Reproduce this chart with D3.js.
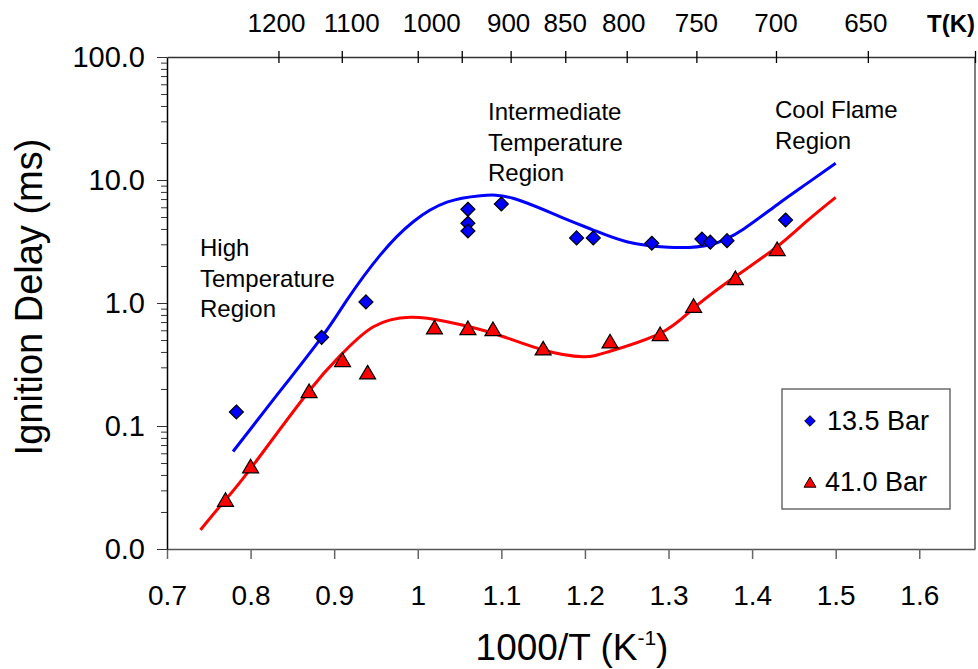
<!DOCTYPE html>
<html>
<head>
<meta charset="utf-8">
<script src="https://d3js.org/d3.v7.min.js"></script>
<style>
  body { margin: 0; background: #fff; }
  text { font-family: Arial, "Liberation Sans", sans-serif; fill: #000; }
</style>
</head>
<body>
<svg width="978" height="669"></svg>
<script>
// measured points, 13.5 bar
var blueX = [0.783, 0.885, 0.938, 1.06, 1.06, 1.06, 1.10, 1.19, 1.21, 1.28, 1.34, 1.35, 1.37, 1.44];
var blueY = [0.130, 0.526, 1.02, 5.78, 4.45, 3.85, 6.38, 3.38, 3.38, 3.06, 3.31, 3.12, 3.21, 4.73];
// measured points, 41.0 bar
var redX = [0.77, 0.80, 0.87, 0.91, 0.94, 1.02, 1.06, 1.09, 1.15, 1.23, 1.29, 1.33, 1.38, 1.43];
var redY = [0.0247, 0.0462, 0.189, 0.338, 0.268, 0.622, 0.615, 0.603, 0.420, 0.479, 0.550, 0.933, 1.567, 2.70];

// model curves
var blueCurveX = [0.779, 0.827, 0.885, 0.915, 0.955, 0.995, 1.035, 1.075, 1.114, 1.17, 1.21, 1.25, 1.30, 1.35, 1.39, 1.43, 1.465, 1.5];
var blueCurveY = [0.062, 0.163, 0.526, 1.05, 2.45, 4.6, 6.6, 7.45, 7.1, 5.04, 3.92, 3.15, 2.84, 2.98, 4.0, 6.3, 9.3, 13.7];
var redCurveX = [0.740, 0.769, 0.80, 0.869, 0.91, 0.947, 0.991, 1.035, 1.09, 1.15, 1.198, 1.23, 1.29, 1.33, 1.38, 1.43, 1.465, 1.5];
var redCurveY = [0.0143, 0.0247, 0.045, 0.189, 0.39, 0.641, 0.765, 0.705, 0.568, 0.415, 0.366, 0.405, 0.567, 0.906, 1.64, 2.87, 4.6, 7.23];

var xTicks = [0.7, 0.8, 0.9, 1.0, 1.1, 1.2, 1.3, 1.4, 1.5, 1.6];
var xTickLabels = ["0.7", "0.8", "0.9", "1", "1.1", "1.2", "1.3", "1.4", "1.5", "1.6"];
var yMajor = [0.01, 0.1, 1, 10, 100];
var yTickLabels = ["0.0", "0.1", "1.0", "10.0", "100.0"];
var topT = [1200, 1100, 1000, 950, 900, 850, 800, 750, 700, 650, 600];
var topLabels = ["1200", "1100", "1000", "", "900", "850", "800", "750", "700", "650", ""];
var topLabelShift = [-2, 10, 14, 0, -2, 0, -3, 0, 0, -2, 0];  // labels sit a little off their ticks
var seriesNames = ["13.5 Bar", "41.0 Bar"];

var svg = d3.select("svg"),
    plotL = 167, plotR = 975, plotT = 57, plotB = 549;

var x = d3.scaleLinear().domain([0.7, 1000 / 600]).range([plotL, plotR]);
var y = d3.scaleLog().domain([0.01, 100]).range([plotB, plotT]);

// minor log ticks 2..9 per decade
var yAll = [];
yMajor.forEach(function(m, i) {
  yAll.push(m);
  if (i < yMajor.length - 1) for (var k = 2; k <= 9; k++) yAll.push(+(m * k).toPrecision(3));
});

// right border
svg.append("line").attr("x1", plotR).attr("x2", plotR).attr("y1", plotT).attr("y2", plotB)
  .attr("stroke", "#555").attr("stroke-width", 1.5);

// bottom axis
var gx = svg.append("g").attr("transform", "translate(0," + plotB + ")")
  .call(d3.axisBottom(x).tickValues(xTicks).tickSize(10).tickSizeOuter(0).tickPadding(26)
    .tickFormat(function(d, i) { return xTickLabels[i]; }));
gx.select(".domain").attr("stroke", "#555").attr("stroke-width", 1.5);
gx.selectAll(".tick line").attr("stroke", "#666").attr("stroke-width", 1.5);
gx.selectAll("text").attr("font-size", 28).attr("font-family", "Arial, 'Liberation Sans', sans-serif");

// left axis
var gy = svg.append("g").attr("transform", "translate(" + plotL + ",0)")
  .call(d3.axisLeft(y).tickValues(yAll).tickSize(10).tickSizeOuter(0).tickPadding(12)
    .tickFormat(function(d) { var i = yMajor.indexOf(d); return i < 0 ? "" : yTickLabels[i]; }));
gy.select(".domain").attr("stroke", "#000").attr("stroke-width", 1.5);
gy.selectAll(".tick line").attr("stroke", "#333")
  .attr("x2", function(d) { return yMajor.indexOf(d) < 0 ? -6 : -10; });
gy.selectAll("text").attr("font-size", 29).attr("font-family", "Arial, 'Liberation Sans', sans-serif");

// top temperature axis
var gt = svg.append("g").attr("transform", "translate(0," + plotT + ")")
  .call(d3.axisTop(x).tickValues(topT.map(function(t) { return 1000 / t; })).tickSize(6).tickSizeOuter(0)
    .tickFormat(""));
gt.select(".domain").attr("stroke", "#333").attr("stroke-width", 1.5);
gt.selectAll(".tick line").attr("y1", 6).attr("y2", -6).attr("stroke", "#000").attr("stroke-width", 1.3);

svg.append("g").selectAll("text").data(topT).enter().append("text")
  .attr("x", function(d, i) { return x(1000 / d) + topLabelShift[i]; })
  .attr("y", 32)
  .attr("text-anchor", "middle")
  .attr("font-size", 26)
  .text(function(d, i) { return topLabels[i]; });

svg.append("text").attr("x", plotR).attr("y", 32).attr("text-anchor", "end")
  .attr("font-size", 24).attr("font-weight", "bold").text("T(K)");

// axis titles
svg.append("text").attr("transform", "translate(42,297) rotate(-90)")
  .attr("text-anchor", "middle").attr("font-size", 38).text("Ignition Delay (ms)");

var xl = svg.append("text").attr("x", 572).attr("y", 660).attr("text-anchor", "middle").attr("font-size", 37);
xl.append("tspan").text("1000/T (K");
xl.append("tspan").attr("font-size", 21).attr("dy", -15).text("-1");
xl.append("tspan").attr("dy", 15).text(")");

// curves
var line = d3.line()
  .x(function(d) { return x(d[0]); })
  .y(function(d) { return y(d[1]); })
  .curve(d3.curveNatural);

svg.append("path").datum(blueCurveX.map(function(v, i) { return [v, blueCurveY[i]]; }))
  .attr("d", line).attr("fill", "none").attr("stroke", "#0000ff").attr("stroke-width", 3);
svg.append("path").datum(redCurveX.map(function(v, i) { return [v, redCurveY[i]]; }))
  .attr("d", line).attr("fill", "none").attr("stroke", "#ff0000").attr("stroke-width", 3);

function diamond(r) { return "M0," + (-r) + "L" + r + ",0L0," + r + "L" + (-r) + ",0Z"; }
function triangle(w) { return "M0," + (-w) + "L" + w + "," + (w * 0.7) + "L" + (-w) + "," + (w * 0.7) + "Z"; }

svg.append("g").selectAll("path").data(blueX).enter().append("path")
  .attr("d", diamond(7))
  .attr("transform", function(d, i) { return "translate(" + x(d) + "," + y(blueY[i]) + ")"; })
  .attr("fill", "#0000ff").attr("stroke", "#000").attr("stroke-width", 1.2);

svg.append("g").selectAll("path").data(redX).enter().append("path")
  .attr("d", triangle(8))
  .attr("transform", function(d, i) { return "translate(" + x(d) + "," + y(redY[i]) + ")"; })
  .attr("fill", "#ff0000").attr("stroke", "#000").attr("stroke-width", 1.2);

// region notes
function note(lines, px, py) {
  var t = svg.append("text").attr("font-size", 24);
  lines.forEach(function(s, i) {
    t.append("tspan").attr("x", px).attr("y", py + i * 30.5).text(s);
  });
}
note(["High", "Temperature", "Region"], 200, 256);
note(["Intermediate", "Temperature", "Region"], 488, 120);
note(["Cool Flame", "Region"], 775, 118);

// legend
var lg = svg.append("g");
lg.append("rect").attr("x", 782).attr("y", 389).attr("width", 168).attr("height", 120)
  .attr("fill", "#fff").attr("stroke", "#555").attr("stroke-width", 1.3);
lg.append("path").attr("d", diamond(5.3)).attr("transform", "translate(810,421)")
  .attr("fill", "#0000ff").attr("stroke", "#000").attr("stroke-width", 1);
lg.append("path").attr("d", triangle(6)).attr("transform", "translate(810,483)")
  .attr("fill", "#ff0000").attr("stroke", "#000").attr("stroke-width", 1);
lg.append("text").attr("x", 827).attr("y", 430).attr("font-size", 27).text(seriesNames[0]);
lg.append("text").attr("x", 825).attr("y", 491).attr("font-size", 27).text(seriesNames[1]);
</script>
</body>
</html>
